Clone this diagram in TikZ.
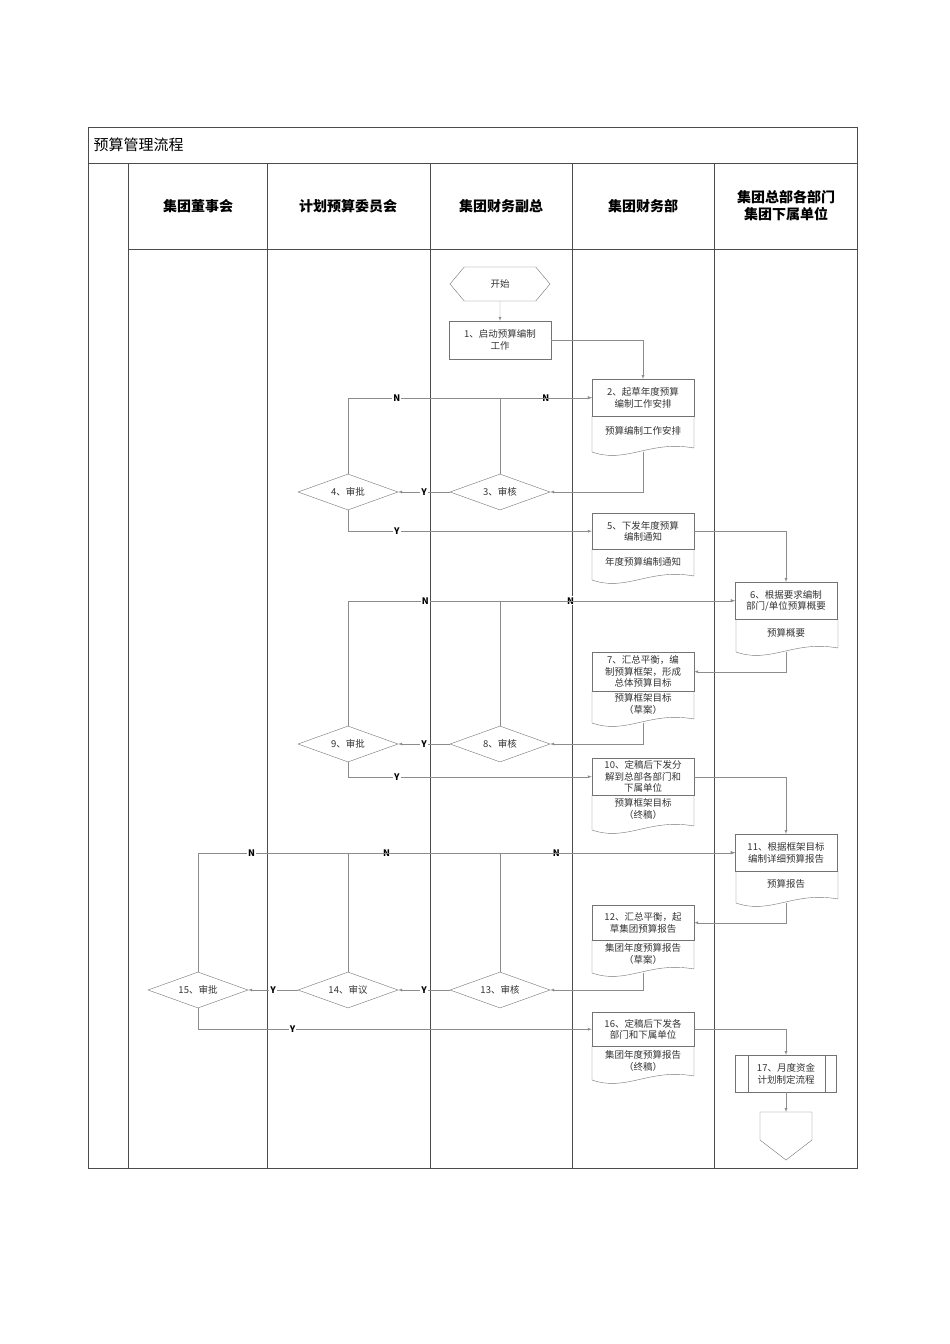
\documentclass[tikz,border=0pt]{standalone}
\usepackage{fontspec}
\setmainfont{Noto Sans CJK SC}
\usetikzlibrary{shapes.geometric, shapes.symbols, positioning, arrows}
\tikzset{>=latex, % filled arrow heads
	x=1pt, y=-1pt, % coordinates as in the page
	frame/.style={draw=black!70, line width=0.5pt},
	proc/.style={draw=black!55, minimum width=102, inner sep=1pt, align=center, font=\fontsize{9.5}{11.5}\selectfont, text=black!80},
	doctext/.style={inner sep=1pt, align=center, font=\fontsize{9.5}{11.5}\selectfont, text=black!80},
	dec/.style={draw=black!55, diamond, aspect=2.8, minimum width=100, minimum height=36, inner sep=1pt, font=\fontsize{9.5}{11.5}\selectfont, text=black!80},
	hexa/.style={draw=black!55, signal, signal to=east and west, signal pointer angle=100, minimum width=100, minimum height=34, font=\fontsize{9.5}{11.5}\selectfont, text=black!80},
	head/.style={font=\fontsize{14}{17}\selectfont\bfseries, align=center},
	flow/.style={draw=black!45, line width=0.4pt},
	yn/.style={fill=white, inner sep=1pt, font=\fontsize{9}{10}\selectfont\bfseries},
}
% document shape: left x, divider y, bottom y
\newcommand{\docwave}[3]{\draw[draw=black!55] (#1,#2) -- (#1,#3) .. controls (#1+35,#3+12) and (#1+57,#3-12) .. (#1+102,#3-4) -- (#1+102,#2);}
\begin{document}
\begin{tikzpicture}
	\useasboundingbox (0,0) rectangle (950,1344);
	% frame and lanes
	\draw[frame] (88,127) rectangle (857,1168);
	\draw[frame] (88,163) -- (857,163);
	\draw[frame] (128,249) -- (857,249);
	\foreach \lx in {128,267,430,572,714} \draw[frame] (\lx,163) -- (\lx,1168);
	\node[anchor=west, font=\fontsize{15}{18}\selectfont] (title) at (90,145) {预算管理流程};
	\node[head] (h1) at (198,206) {集团董事会};
	\node[head] (h2) at (348,206) {计划预算委员会};
	\node[head] (h3) at (501,206) {集团财务副总};
	\node[head] (h4) at (643,206) {集团财务部};
	\node[head] (h5) at (786,206) {集团总部各部门\\集团下属单位};

	% first loop
	\node[hexa] (start) at (500,284) {开始};
	\node[proc, minimum height=38] (n1) at (500,340) {1、启动预算编制\\工作};
	\node[proc, minimum height=37, anchor=north] (n2) at (643,379) {2、起草年度预算\\编制工作安排};
	\docwave{592}{416}{452}
	\node[doctext] (n2t) at (643,431) {预算编制工作安排};
	\coordinate (n2b) at (643,452);
	\node[dec] (n3) at (500,492) {3、审核};
	\node[dec] (n4) at (348,492) {4、审批};
	\node[proc, minimum height=36, anchor=north] (n5) at (643,513) {5、下发年度预算\\编制通知};
	\docwave{592}{549}{580}
	\node[doctext] (n5t) at (643,562) {年度预算编制通知};
	\coordinate (n5b) at (643,580);
	\draw[flow, ->] (start) -- (n1);
	\draw[flow, ->] (n1.east) -| (n2.north);
	\draw[flow, ->] (n2b) |- (n3.east);
	\draw[flow, ->] (n3) -- node[yn]{Y} (n4);
	\draw[flow, ->] (n3.north) |- node[yn, pos=0.75]{N} (n2.west);
	\draw[flow, ->] (n4.north) |- node[yn, pos=0.6]{N} (n2.west);
	\draw[flow, ->] (n4.south) |- node[yn, pos=0.6]{Y} (n5.west);

	% second loop
	\node[proc, minimum height=37, anchor=north] (n6) at (786,582) {6、根据要求编制\\部门/单位预算概要};
	\docwave{736}{619}{652}
	\node[doctext] (n6t) at (786,633) {预算概要};
	\coordinate (n6b) at (786,652);
	\node[proc, minimum height=39, anchor=north] (n7) at (643,652) {7、汇总平衡，编\\制预算框架，形成\\总体预算目标};
	\docwave{592}{691}{723}
	\node[doctext] (n7t) at (643,704) {预算框架目标\\（草案）};
	\coordinate (n7b) at (643,723);
	\node[dec] (n8) at (500,744) {8、审核};
	\node[dec] (n9) at (348,744) {9、审批};
	\node[proc, minimum height=37, anchor=north] (n10) at (643,758) {10、定稿后下发分\\解到总部各部门和\\下属单位};
	\docwave{592}{795}{830}
	\node[doctext] (n10t) at (643,809) {预算框架目标\\（终稿）};
	\draw[flow, ->] (n5.east) -| (n6.north);
	\draw[flow, ->] (n6b) |- (n7.east);
	\draw[flow, ->] (n7b) |- (n8.east);
	\draw[flow, ->] (n8) -- node[yn]{Y} (n9);
	\draw[flow, ->] (n8.north) |- node[yn, pos=0.65]{N} (n6.west);
	\draw[flow, ->] (n9.north) |- node[yn, pos=0.6]{N} (n6.west);
	\draw[flow, ->] (n9.south) |- node[yn, pos=0.6]{Y} (n10.west);

	% third loop
	\node[proc, minimum height=37, anchor=north] (n11) at (786,834) {11、根据框架目标\\编制详细预算报告};
	\docwave{736}{871}{903}
	\node[doctext] (n11t) at (786,884) {预算报告};
	\coordinate (n11b) at (786,903);
	\node[proc, minimum height=35, anchor=north] (n12) at (643,905) {12、汇总平衡，起\\草集团预算报告};
	\docwave{592}{940}{973}
	\node[doctext] (n12t) at (643,954) {集团年度预算报告\\（草案）};
	\coordinate (n12b) at (643,973);
	\node[dec] (n13) at (500,990) {13、审核};
	\node[dec] (n14) at (348,990) {14、审议};
	\node[dec] (n15) at (198,990) {15、审批};
	\node[proc, minimum height=34, anchor=north] (n16) at (643,1012) {16、定稿后下发各\\部门和下属单位};
	\docwave{592}{1046}{1080}
	\node[doctext] (n16t) at (643,1061) {集团年度预算报告\\（终稿）};
	\node[proc, minimum height=37, anchor=north, minimum width=101] (n17) at (786,1055) {17、月度资金\\计划制定流程};
	\draw[draw=black!55] (748,1055) -- (748,1092) (825,1055) -- (825,1092);
	\draw[draw=black!55] (760,1112) -- (812,1112) -- (812,1140) -- (786,1160) -- (760,1140) -- cycle;
	\coordinate (end) at (786,1112);
	\draw[flow, ->] (n10.east) -| (n11.north);
	\draw[flow, ->] (n11b) |- (n12.east);
	\draw[flow, ->] (n12b) |- (n13.east);
	\draw[flow, ->] (n13) -- node[yn]{Y} (n14);
	\draw[flow, ->] (n14) -- node[yn]{Y} (n15);
	\draw[flow, ->] (n13.north) |- node[yn, pos=0.62]{N} (n11.west);
	\draw[flow, ->] (n14.north) |- node[yn, pos=0.55]{N} (n11.west);
	\draw[flow, ->] (n15.north) |- node[yn, pos=0.55]{N} (n11.west);
	\draw[flow, ->] (n15.south) |- node[yn, pos=0.62]{Y} (n16.west);
	\draw[flow, ->] (n16.east) -| (n17.north);
	\draw[flow, ->] (n17.south) -- (end);
\end{tikzpicture}
\end{document}
